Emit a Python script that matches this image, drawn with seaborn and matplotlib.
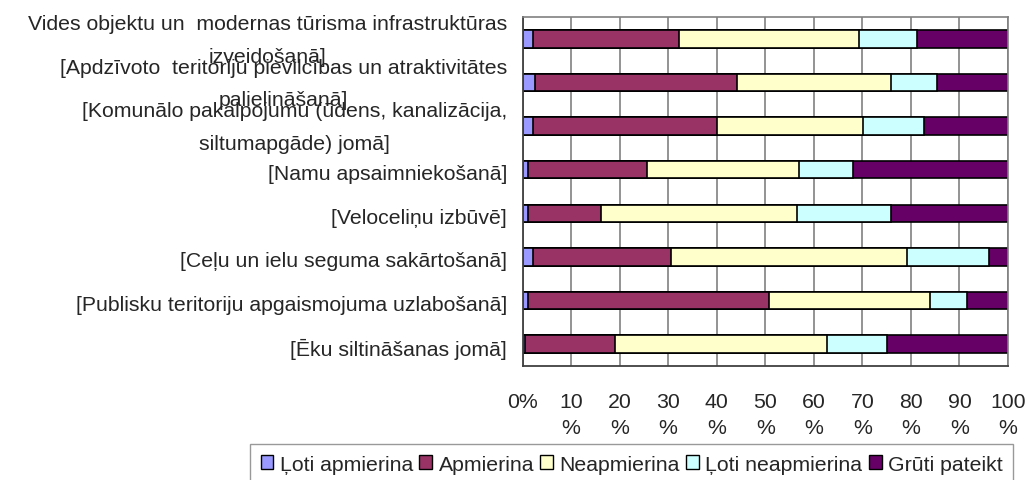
import numpy as np
import pandas as pd
import seaborn as sns
import matplotlib.pyplot as plt
import matplotlib.transforms as mtransforms
from matplotlib.patches import Patch
from matplotlib.ticker import FixedLocator

# kategorijas (no augšas uz leju)
kategorijas = [
    "Vides objektu un  modernas tūrisma infrastruktūras\nizveidošanā]",
    "[Apdzīvoto  teritoriju pievilcības un atraktivitātes\npalielināšanā]",
    "[Komunālo pakalpojumu (ūdens, kanalizācija,\nsiltumapgāde) jomā]",
    "[Namu apsaimniekošanā]",
    "[Veloceliņu izbūvē]",
    "[Ceļu un ielu seguma sakārtošanā]",
    "[Publisku teritoriju apgaismojuma uzlabošanā]",
    "[Ēku siltināšanas jomā]",
]

# vērtības procentos
loti_apmierina = [2.2, 2.6, 2.2, 1.2, 1.2, 2.1, 1.2, 0.5]
apmierina = [30.1, 41.5, 37.8, 24.5, 15.0, 28.4, 49.6, 18.6]
neapmierina = [37.0, 31.8, 30.1, 31.2, 40.3, 48.6, 33.2, 43.6]
loti_neapmierina = [11.9, 9.5, 12.5, 11.2, 19.4, 17.0, 7.5, 12.3]
gruti_pateikt = [18.8, 14.6, 17.4, 31.9, 24.1, 3.9, 8.5, 25.0]

serijas = ["Ļoti apmierina", "Apmierina", "Neapmierina", "Ļoti neapmierina", "Grūti pateikt"]
krasas = ["#9999FF", "#993366", "#FFFFCC", "#CCFFFF", "#660066"]
x_ticks = [0, 10, 20, 30, 40, 50, 60, 70, 80, 90, 100]
x_tick_labels = ["0%"] + [f"{t}\n%" for t in x_ticks[1:]]

sns.set_style("white")
plt.rcParams["font.family"] = ["Liberation Sans", "DejaVu Sans"]
plt.rcParams["font.size"] = 15.3

df = pd.DataFrame({
    "kat": kategorijas,
    serijas[0]: loti_apmierina,
    serijas[1]: apmierina,
    serijas[2]: neapmierina,
    serijas[3]: loti_neapmierina,
    serijas[4]: gruti_pateikt,
})
kum = df[serijas].cumsum(axis=1)

fig = plt.figure(figsize=(10.27, 4.81), dpi=100)
ax = fig.add_axes([0.5088, 0.237, 0.9815 - 0.5088, 0.9626 - 0.237])

# gridlines behind bars
ax.set_axisbelow(True)
ax.xaxis.grid(True, color="#808080", linewidth=1.2)

# stacked bars: draw cumulative totals from largest to smallest
for s, c in zip(serijas[::-1], krasas[::-1]):
    sns.barplot(x=kum[s], y=df["kat"], color=c, saturation=1, orient="h",
                width=0.4, edgecolor="black", linewidth=1.2, ax=ax)

ax.set_xlim(0, 100)
ax.set_ylim(7.5, -0.5)
ax.set_xlabel("")
ax.set_ylabel("")

ax.set_xticks(x_ticks)
ax.set_xticklabels(x_tick_labels, linespacing=1.45)
ax.tick_params(axis="x", direction="out", length=6, width=1.1, color="#404040", pad=13)

# category labels drawn as text so the two-line ones can sit where Excel put them
ax.set_yticks(range(len(kategorijas)))
ax.set_yticklabels([])
ax.tick_params(axis="y", which="major", length=0)
base = mtransforms.blended_transform_factory(ax.transAxes, ax.transData)
for i, lab in enumerate(kategorijas):
    dy = -0.01 if "\n" in lab else -0.04
    tr = base + mtransforms.ScaledTranslation(-0.155, dy, fig.dpi_scale_trans)
    ax.text(0, i, lab, transform=tr, ha="right", va="center",
            multialignment="center", linespacing=1.9)

ax.yaxis.set_minor_locator(FixedLocator(np.arange(-0.5, 8, 1)))
ax.tick_params(axis="y", which="minor", direction="out", length=6, width=1.1, color="#404040")

for side in ["top", "right"]:
    ax.spines[side].set_color("#808080")
    ax.spines[side].set_linewidth(1.2)
ax.spines["left"].set_color("#404040")
ax.spines["bottom"].set_color("#404040")
ax.spines["left"].set_linewidth(1.3)
ax.spines["bottom"].set_linewidth(1.3)

handles = [Patch(facecolor=c, edgecolor="black", linewidth=1.0) for c in krasas]
fig.legend(handles, serijas, loc="upper left", bbox_to_anchor=(250 / 1027, 1 - 445 / 481),
           ncol=5, frameon=True, fancybox=False, edgecolor="#808080",
           handlelength=0.6, handleheight=0.6, handletextpad=0.3, columnspacing=0.3,
           borderpad=0.5, borderaxespad=0)

fig.savefig("out.png", dpi=100)
